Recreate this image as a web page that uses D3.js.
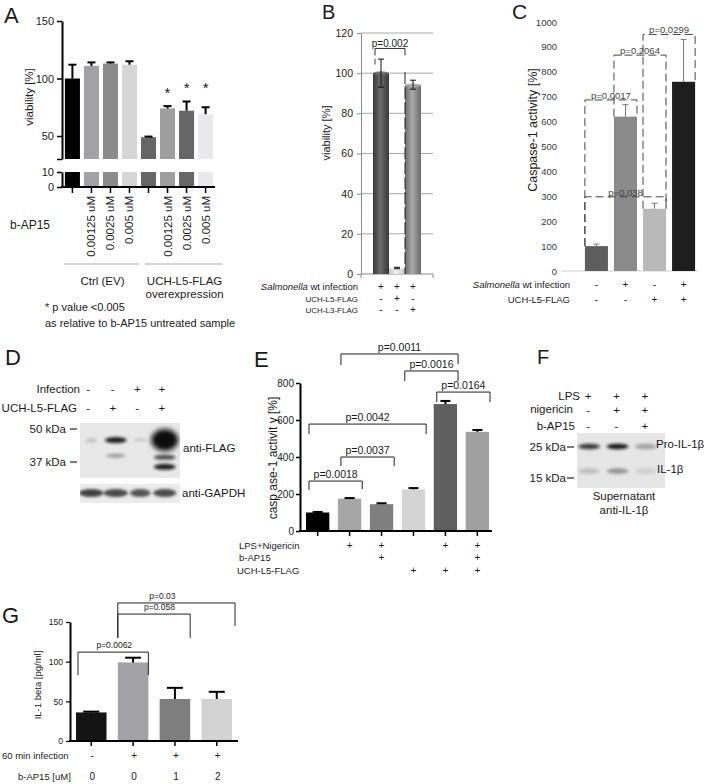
<!DOCTYPE html>
<html><head><meta charset="utf-8">
<script src="https://cdn.jsdelivr.net/npm/d3@7"></script>
<style>
body{margin:0;background:#fff}
svg{display:block}
text{font-family:"Liberation Sans",Arial,Helvetica,sans-serif;fill:#1a1a1a}
</style>
</head><body>
<svg id="fig" width="710" height="784"></svg>
<script>
// ================= DATA =================
// Panel A
const aConc = ["0","0.00125 uM","0.0025 uM","0.005 uM","0","0.00125 uM","0.0025 uM","0.005 uM"];
const aValues = [100,111,113,112,49,74,72,69];
const aErrUp = [112,114,114,115,49.5,76,80,75];
const aStarLevel = [null,null,null,null,null,90,94,94];
const aGroups = ["Ctrl (EV)", "UCH-L5-FLAG|overexpression"];
const aUpperTicks = [30,50,100,150];
const aLowerTicks = [0,10];
// Panel B
const bInfection = ["+","+","+"];
const bUCHL5 = ["-","+","-"];
const bUCHL3 = ["-","-","+"];
const bValues = [100,3,94];
const bErrLow = [93,2.6,92];
const bErrHigh = [107,3.3,96.5];
const bTicks = [0,20,40,60,80,100,120];
// Panel C
const cInfection = ["-","+","-","+"];
const cUCHL5 = ["-","-","+","+"];
const cValues = [100,620,250,760];
const cErrHigh = [108,668,272,930];
const cTicks = [0,100,200,300,400,500,600,700,800,900,1000];
const cBrackets = [
  {a:0,b:1,level:687,label:"p=0.0017"},
  {a:1,b:2,level:867,label:"p=0.2064"},
  {a:2,b:3,level:950,label:"p=0.0299"},
  {a:0,b:2,level:298,label:"p=0.038"}
];
// Panel D (western blot)
const dInfection = ["-","-","+","+"];
const dUCHL5 = ["-","+","-","+"];
const dMarkers = [50,37];
const dFlagBands = [
  {lane:0,kDa:45,intensity:0.18,w:0.5,h:4},
  {lane:1,kDa:45.2,intensity:0.9,w:0.9,h:6},
  {lane:1,kDa:39.2,intensity:0.35,w:0.8,h:4},
  {lane:2,kDa:45.2,intensity:0.12,w:0.6,h:4},
  {lane:3,kDa:45.2,intensity:1.0,w:1.1,h:22},
  {lane:3,kDa:38.6,intensity:0.7,w:0.9,h:5},
  {lane:3,kDa:35.4,intensity:0.9,w:0.9,h:6}
];
const dGapdhBands = [
  {lane:0,intensity:0.85,w:1.0},
  {lane:1,intensity:0.8,w:1.0},
  {lane:2,intensity:0.75,w:0.85},
  {lane:3,intensity:0.8,w:0.95}
];
// Panel E
const eLPS = ["","+","+","","+","+"];
const eBAP = ["","","+","","","+"];
const eUCH = ["","","","+","+","+"];
const eValues = [100,175,145,225,686,536];
const eErrHigh = [103,178,150,232,703,546];
const eTicks = [0,200,400,600,800];
const eBrackets = [
  {a:0,b:1,level:270,legA:222,legB:227,label:"p=0.0018"},
  {a:1,b:2,level:400,legA:351,legB:351,label:"p=0.0037"},
  {a:0,b:3,level:578,legA:524,legB:524,label:"p=0.0042"},
  {a:1,b:4,level:957,legA:897,legB:902,label:"p=0.0011"},
  {a:3,b:4,level:865,legA:811,legB:811,label:"p=0.0016"},
  {a:4,b:5,level:751,legA:697,legB:697,label:"p=0.0164"}
];
// Panel F (western blot)
const fLPS = ["+","+","+"];
const fNig = ["-","+","+"];
const fBAP = ["-","-","+"];
const fMarkers = [25,15];
const fBands = [
  {lane:0,kDa:25.2,intensity:0.8},{lane:1,kDa:25.2,intensity:0.95},{lane:2,kDa:25.2,intensity:0.3},
  {lane:0,kDa:16.8,intensity:0.18},{lane:1,kDa:16.8,intensity:0.38},{lane:2,kDa:16.8,intensity:0.1}
];
// Panel G
const gInfection = ["-","+","+","+"];
const gBAP = ["0","0","1","2"];
const gValues = [36,99,53,53];
const gErrHigh = [37,105,67,62];
const gTicks = [0,50,100,150];
const gBrackets = [
  {a:0,b:1,level:112,legA:83,legB:83,label:"p=0.0062",lx:0.55},
  {a:1,b:2,level:160,legA:130,legB:130,label:"p=0.058",lx:1.63},
  {a:1,b:3,level:174,legA:130,legB:145,label:"p=0.03",lx:1.7}
];

// ================= STYLES =================
const aColors = ["#000000","#a2a2a4","#8b8b8b","#d6d6d6","#666666","#9e9e9e","#666666","#e9e9eb"];
const bGrad = [["#383838","#6c6c6c"],["#c4c4c4","#f2f2f2"],["#6c6c6c","#a9a9a9"]];
const cColors = ["#5e5e5e","#8a8a8a","#b9b9b9","#1e1e1e"];
const eColors = ["#000000","#a6a6a6","#7f7f7f","#d4d4d4","#5f5f5f","#a0a0a0"];
const gColors = ["#141414","#a2a2a6","#7f7f7f","#d3d3d3"];

const svg = d3.select("#fig");
const defs = svg.append("defs");
defs.append("filter").attr("id","blur").attr("x","-50%").attr("y","-100%").attr("width","200%").attr("height","300%")
  .append("feGaussianBlur").attr("stdDeviation",1.6);
defs.append("filter").attr("id","blur2").attr("x","-50%").attr("y","-50%").attr("width","200%").attr("height","200%")
  .append("feGaussianBlur").attr("stdDeviation",2.4);

function T(g,x,y,s,size,anchor,extra){
  const t=g.append("text").attr("x",x).attr("y",y).attr("font-size",size).attr("text-anchor",anchor||"start").text(s);
  if(extra) extra(t);
  return t;
}
function styleAxis(ax, pathW, tickW, fs, color){
  ax.select(".domain").attr("stroke",color||"#000").attr("stroke-width",pathW);
  ax.selectAll(".tick line").attr("stroke",color||"#000").attr("stroke-width",tickW);
  ax.selectAll(".tick text").attr("font-size",fs).attr("fill","#1a1a1a").attr("font-family",null);
}

// ================= PANEL A =================
{
  const g = svg.append("g");
  T(g,4,23,"A",22);
  const x = d3.scaleBand().domain(d3.range(aValues.length)).range([63,215]).paddingInner(0.21).paddingOuter(0.1);
  const yU = d3.scaleLinear().domain([30,150]).range([159,21]);
  const yL = d3.scaleLinear().domain([0,10]).range([187,172]);
  const bw = x.bandwidth();
  g.selectAll(".au").data(aValues).join("rect")
    .attr("x",(d,i)=>x(i)).attr("y",d=>yU(d)).attr("width",bw).attr("height",d=>yU(30)-yU(d))
    .attr("fill",(d,i)=>aColors[i]);
  g.selectAll(".al").data(aValues).join("rect")
    .attr("x",(d,i)=>x(i)).attr("y",yL(10)).attr("width",bw).attr("height",yL(0)-yL(10))
    .attr("fill",(d,i)=>aColors[i]);
  aErrUp.forEach((e,i)=>{
    const cx=x(i)+bw/2;
    g.append("line").attr("x1",cx).attr("x2",cx).attr("y1",yU(aValues[i])).attr("y2",yU(e)).attr("stroke","#000").attr("stroke-width",2);
    g.append("line").attr("x1",cx-4).attr("x2",cx+4).attr("y1",yU(e)).attr("y2",yU(e)).attr("stroke","#000").attr("stroke-width",2);
    if(aStarLevel[i]!=null) T(g,cx,yU(aStarLevel[i])+8,"*",15,"middle");
  });
  const axU = g.append("g").attr("transform","translate(62,0)")
    .call(d3.axisLeft(yU).tickValues(aUpperTicks).tickFormat(d=>d===30?"":d).tickSize(5).tickSizeOuter(0));
  styleAxis(axU,2,1.5,11);
  const axL = g.append("g").attr("transform","translate(62,0)")
    .call(d3.axisLeft(yL).tickValues(aLowerTicks).tickSize(5).tickSizeOuter(0));
  styleAxis(axL,2,1.5,11);
  g.append("line").attr("x1",61).attr("x2",215).attr("y1",187).attr("y2",187).attr("stroke","#000").attr("stroke-width",2);
  aValues.forEach((d,i)=>{
    const cx=x(i)+bw/2;
    g.append("line").attr("x1",cx).attr("x2",cx).attr("y1",187).attr("y2",193).attr("stroke","#000").attr("stroke-width",1.5);
    if(aConc[i]!=="0") T(g,cx+4,196,aConc[i],11.5,"end",t=>t.attr("transform",`rotate(-90,${cx+4},196)`));
  });
  T(g,33,97,"viability [%]",11.5,"middle",t=>t.attr("transform","rotate(-90,33,97)"));
  T(g,10,229,"b-AP15",12);
  const gr=[[x(0)-1,x(3)+bw+2],[x(4)+4,x(7)+bw+9]];
  gr.forEach((r,k)=>{
    g.append("line").attr("x1",r[0]).attr("x2",r[1]).attr("y1",264).attr("y2",264).attr("stroke","#aaa").attr("stroke-width",1);
    const parts=aGroups[k].split("|");
    parts.forEach((p,j)=>T(g,(r[0]+r[1])/2+1,285+j*13,p,11.5,"middle"));
  });
  T(g,45,311,"*  p value <0.005",11);
  T(g,45,327,"as relative to b-AP15 untreated sample",11);
}

// ================= PANEL B =================
{
  const g = svg.append("g");
  T(g,322,19,"B",20);
  const x = d3.scaleBand().domain(d3.range(bValues.length)).range([361,433]).paddingInner(0).paddingOuter(0.75);
  const y = d3.scaleLinear().domain([0,120]).range([274,33]);
  const bw=x.bandwidth();
  bGrad.forEach((c,i)=>{
    const lg=defs.append("linearGradient").attr("id","bg"+i).attr("x1","0").attr("x2","1").attr("y1","0").attr("y2","0");
    lg.append("stop").attr("offset","0").attr("stop-color",c[0]);
    lg.append("stop").attr("offset","0.45").attr("stop-color",c[1]);
    lg.append("stop").attr("offset","1").attr("stop-color",c[0]);
  });
  g.selectAll(".grid").data(bTicks.filter(d=>d>0)).join("line")
    .attr("x1",361).attr("x2",433).attr("y1",d=>y(d)).attr("y2",d=>y(d)).attr("stroke","#a8a8a8").attr("stroke-width",1);
  const ax=g.append("g").attr("transform","translate(361,0)").call(d3.axisLeft(y).tickValues(bTicks).tickSize(4).tickSizeOuter(0));
  styleAxis(ax,1,1,10.5,"#888");
  ax.selectAll(".tick text").attr("x",-8);
  g.append("line").attr("x1",361).attr("x2",433).attr("y1",274).attr("y2",274).attr("stroke","#888");
  [361,433].forEach(v=>g.append("line").attr("x1",v).attr("x2",v).attr("y1",274).attr("y2",278).attr("stroke","#888"));
  bValues.forEach((v,i)=>{
    g.append("rect").attr("x",x(i)).attr("y",y(v)).attr("width",bw).attr("height",y(0)-y(v)).attr("fill",`url(#bg${i})`);
    g.append("ellipse").attr("cx",x(i)+bw/2).attr("cy",y(v)).attr("rx",bw/2).attr("ry",1.8).attr("fill",bGrad[i][1]).attr("opacity",0.9);
    const cx=x(i)+bw/2;
    g.append("line").attr("x1",cx).attr("x2",cx).attr("y1",y(bErrLow[i])).attr("y2",y(bErrHigh[i])).attr("stroke","#111").attr("stroke-width",1);
    [bErrLow[i],bErrHigh[i]].forEach(e=>g.append("line").attr("x1",cx-3).attr("x2",cx+3).attr("y1",y(e)).attr("y2",y(e)).attr("stroke","#111").attr("stroke-width",1));
  });
  const xa=x(0)+2, xb=x(1)+bw;
  g.append("path").attr("d",`M${xa},${y(108.8)}V${y(112.3)}H${xb}V${y(108.8)}`).attr("fill","none").attr("stroke","#333");
  g.append("line").attr("x1",xa).attr("x2",xa).attr("y1",y(107.3)).attr("y2",y(104.3)).attr("stroke","#444");
  g.append("line").attr("x1",xb).attr("x2",xb).attr("y1",y(100.5)).attr("y2",y(0)).attr("stroke","#222").attr("stroke-dasharray","12,3");
  T(g,(xa+xb)/2,47,"p=0.002",10,"middle");
  T(g,330,133,"viability [%]",11,"middle",t=>t.attr("transform","rotate(-90,330,133)"));
  const lab=g.append("text").attr("x",358).attr("y",290).attr("font-size",9.5).attr("text-anchor","end");
  lab.append("tspan").attr("font-style","italic").text("Salmonella");
  lab.append("tspan").text(" wt infection");
  T(g,358,302,"UCH-L5-FLAG",8,"end");
  T(g,358,313,"UCH-L3-FLAG",8,"end");
  [bInfection,bUCHL5,bUCHL3].forEach((row,r)=>row.forEach((s,i)=>T(g,x(i)+bw/2,[290,302,313][r],s,10,"middle")));
}

// ================= PANEL C =================
{
  const g = svg.append("g");
  T(g,512,19,"C",21);
  const x = d3.scaleBand().domain(d3.range(cValues.length)).range([582,698]).paddingInner(0.207).paddingOuter(0.1);
  const y = d3.scaleLinear().domain([0,1000]).range([271,22]);
  const bw=x.bandwidth();
  g.selectAll(".ct").data(cTicks).join("text").attr("x",557).attr("y",d=>y(d)+3.5).attr("font-size",9.5)
    .attr("text-anchor","end").style("fill","#3a3a3a").text(d=>d);
  g.append("line").attr("x1",562).attr("x2",698).attr("y1",y(0)).attr("y2",y(0)).attr("stroke","#cfcfcf");
  g.selectAll(".cb").data(cValues).join("rect").attr("x",(d,i)=>x(i)).attr("y",d=>y(d)).attr("width",bw)
    .attr("height",d=>y(0)-y(d)).attr("fill",(d,i)=>cColors[i]);
  cErrHigh.forEach((e,i)=>{
    const cx=x(i)+bw/2;
    g.append("line").attr("x1",cx).attr("x2",cx).attr("y1",y(cValues[i])).attr("y2",y(e)).attr("stroke","#777");
    g.append("line").attr("x1",cx-3).attr("x2",cx+3).attr("y1",y(e)).attr("y2",y(e)).attr("stroke","#777");
  });
  cBrackets.forEach(b=>{
    const xa=x(b.a), xb=x(b.b)+bw;
    g.append("path").attr("d",`M${xa},${y(cValues[b.a])}V${y(b.level)}H${xb}V${y(cValues[b.b])}`)
      .attr("fill","none").attr("stroke","#444").attr("stroke-dasharray","8,4");
    T(g,(xa+xb)/2,y(b.level)-1,b.label,9.5,"middle",t=>t.style("fill","#444"));
  });
  T(g,537,130,"Caspase-1 activity [%]",12.5,"middle",t=>t.attr("transform","rotate(-90,537,130)"));
  const lab=g.append("text").attr("x",570).attr("y",288).attr("font-size",9.5).attr("text-anchor","end");
  lab.append("tspan").attr("font-style","italic").text("Salmonella");
  lab.append("tspan").text(" wt infection");
  T(g,570,303,"UCH-L5-FLAG",9.5,"end");
  [cInfection,cUCHL5].forEach((row,r)=>row.forEach((s,i)=>T(g,x(i)+bw/2,[288,303][r],s,10,"middle")));
}

// ================= PANEL D =================
{
  const g = svg.append("g");
  T(g,5,365,"D",22);
  const lane = d3.scaleBand().domain(d3.range(4)).range([79,177]);
  const kda = d3.scaleLog().domain([37,50]).range([462,429]);
  const lw = lane.bandwidth();
  T(g,80,393,"Infection",11.5,"end");
  T(g,77,412,"UCH-L5-FLAG",11.5,"end");
  [dInfection,dUCHL5].forEach((row,r)=>row.forEach((s,i)=>T(g,lane(i)+lw/2-3,[393,412][r],s,11.5,"middle")));
  dMarkers.forEach(m=>{
    T(g,66,kda(m)+4,m+" kDa",11.5,"end");
    g.append("line").attr("x1",70).attr("x2",77).attr("y1",kda(m)).attr("y2",kda(m)).attr("stroke","#222").attr("stroke-width",1.2);
  });
  const clip=defs.append("clipPath").attr("id","clipD"); clip.append("rect").attr("x",80).attr("y",423).attr("width",100).attr("height",55);
  g.append("rect").attr("x",80).attr("y",423).attr("width",100).attr("height",55).attr("fill","#e8e8e8");
  const bg=g.append("g").attr("clip-path","url(#clipD)");
  dFlagBands.forEach(b=>{
    bg.append("ellipse").attr("cx",lane(b.lane)+lw/2).attr("cy",kda(b.kDa)).attr("rx",lw*b.w/2).attr("ry",b.h/2)
      .attr("fill","#111").attr("opacity",b.intensity).attr("filter",b.h>10?"url(#blur2)":"url(#blur)");
  });
  T(g,183,452,"anti-FLAG",11.5);
  const clip2=defs.append("clipPath").attr("id","clipD2"); clip2.append("rect").attr("x",80).attr("y",484).attr("width",100).attr("height",19);
  g.append("rect").attr("x",80).attr("y",484).attr("width",100).attr("height",19).attr("fill","#ececec");
  const bg2=g.append("g").attr("clip-path","url(#clipD2)");
  dGapdhBands.forEach(b=>{
    bg2.append("ellipse").attr("cx",lane(b.lane)+lw/2).attr("cy",493).attr("rx",lw*b.w/2).attr("ry",4)
      .attr("fill","#222").attr("opacity",b.intensity).attr("filter","url(#blur)");
  });
  T(g,182,497,"anti-GAPDH",11.5);
}

// ================= PANEL E =================
{
  const g = svg.append("g");
  T(g,254,367,"E",22);
  const x = d3.scaleBand().domain(d3.range(eValues.length)).range([301.2,493.8]).paddingInner(0.27).paddingOuter(0.15);
  const y = d3.scaleLinear().domain([0,800]).range([531,383]);
  const bw=x.bandwidth();
  g.selectAll(".eb").data(eValues).join("rect").attr("x",(d,i)=>x(i)).attr("y",d=>y(d)).attr("width",bw)
    .attr("height",d=>y(0)-y(d)).attr("fill",(d,i)=>eColors[i]);
  eErrHigh.forEach((e,i)=>{
    const cx=x(i)+bw/2;
    g.append("line").attr("x1",cx).attr("x2",cx).attr("y1",y(eValues[i])).attr("y2",y(e)).attr("stroke","#000").attr("stroke-width",2);
    g.append("line").attr("x1",cx-5).attr("x2",cx+5).attr("y1",y(e)).attr("y2",y(e)).attr("stroke","#000").attr("stroke-width",2);
  });
  const ax=g.append("g").attr("transform","translate(300,0)").call(d3.axisLeft(y).tickValues(eTicks).tickSize(4).tickSizeOuter(0));
  styleAxis(ax,2,1.5,10);
  ax.selectAll(".tick text").attr("x",-6);
  g.append("line").attr("x1",299).attr("x2",492).attr("y1",531).attr("y2",531).attr("stroke","#000").attr("stroke-width",2);
  eValues.forEach((d,i)=>g.append("line").attr("x1",x(i)+bw/2).attr("x2",x(i)+bw/2).attr("y1",531).attr("y2",536).attr("stroke","#000").attr("stroke-width",1.5));
  eBrackets.forEach(b=>{
    const xa=x(b.a)+3, xb=x(b.b)+bw+1;
    g.append("path").attr("d",`M${xa},${y(b.legA)}V${y(b.level)}H${xb}V${y(b.legB)}`).attr("fill","none").attr("stroke","#222").attr("stroke-width",1);
    T(g,(xa+xb)/2,y(b.level)-3,b.label,10.5,"middle");
  });
  T(g,277,458,"casp ase-1 activit y [%]",12,"middle",t=>t.attr("transform","rotate(-90,277,458)"));
  T(g,239,549,"LPS+Nigericin",9.5);
  T(g,239,561,"b-AP15",9.5);
  T(g,237,574,"UCH-L5-FLAG",9.5);
  [eLPS,eBAP,eUCH].forEach((row,r)=>row.forEach((s,i)=>{ if(s) T(g,x(i)+bw/2,[549,561,574][r],s,10,"middle"); }));
}

// ================= PANEL F =================
{
  const g = svg.append("g");
  T(g,537,364,"F",20);
  const lane = d3.scaleBand().domain(d3.range(3)).range([575,660]);
  const kda = d3.scaleLog().domain([15,25]).range([478,447]);
  const lw=lane.bandwidth();
  T(g,580,400,"LPS",11.5,"end");
  T(g,573,413,"nigericin",11.5,"end");
  T(g,575,430,"b-AP15",11.5,"end");
  [fLPS,fNig,fBAP].forEach((row,r)=>row.forEach((s,i)=>T(g,lane(i)+lw/2-1,[400,414,430][r],s,11.5,"middle")));
  fMarkers.forEach(m=>{
    T(g,566,kda(m)+4,m+" kDa",11.5,"end");
    g.append("line").attr("x1",567).attr("x2",574).attr("y1",kda(m)).attr("y2",kda(m)).attr("stroke","#222").attr("stroke-width",1.2);
  });
  g.append("rect").attr("x",577).attr("y",433).attr("width",88).attr("height",55).attr("fill","#e6e6e6");
  fBands.forEach(b=>{
    g.append("ellipse").attr("cx",lane(b.lane)+lw/2).attr("cy",kda(b.kDa)).attr("rx",11).attr("ry",2.8)
      .attr("fill","#111").attr("opacity",b.intensity).attr("filter","url(#blur)");
  });
  T(g,656,448,"Pro-IL-1β",11.5);
  T(g,657,473,"IL-1β",11.5);
  T(g,624,500,"Supernatant",11.5,"middle");
  T(g,624,514,"anti-IL-1β",11.5,"middle");
}

// ================= PANEL G =================
{
  const g = svg.append("g");
  T(g,2,623,"G",22);
  const x = d3.scaleBand().domain(d3.range(gValues.length)).range([70,238]).paddingInner(0.27).paddingOuter(0.143);
  const y = d3.scaleLinear().domain([0,150]).range([741,622]);
  const bw=x.bandwidth();
  g.selectAll(".gb").data(gValues).join("rect").attr("x",(d,i)=>x(i)).attr("y",d=>y(d)).attr("width",bw)
    .attr("height",d=>y(0)-y(d)).attr("fill",(d,i)=>gColors[i]);
  gErrHigh.forEach((e,i)=>{
    const cx=x(i)+bw/2;
    g.append("line").attr("x1",cx).attr("x2",cx).attr("y1",y(gValues[i])).attr("y2",y(e)).attr("stroke","#000").attr("stroke-width",2);
    g.append("line").attr("x1",cx-8).attr("x2",cx+8).attr("y1",y(e)).attr("y2",y(e)).attr("stroke","#000").attr("stroke-width",2);
  });
  const ax=g.append("g").attr("transform","translate(70,0)").call(d3.axisLeft(y).tickValues(gTicks).tickSize(4).tickSizeOuter(0));
  styleAxis(ax,2,1.2,8.5);
  g.append("line").attr("x1",69).attr("x2",238).attr("y1",741).attr("y2",741).attr("stroke","#000").attr("stroke-width",2);
  gValues.forEach((d,i)=>g.append("line").attr("x1",x(i)+bw/2).attr("x2",x(i)+bw/2).attr("y1",741).attr("y2",746).attr("stroke","#000").attr("stroke-width",1.5));
  gBrackets.forEach(b=>{
    const xa=x(b.a)+(b.a===0?2:0), xb=x(b.b)+bw+(b.b===3?3:0);
    g.append("path").attr("d",`M${xa},${y(b.legA)}V${y(b.level)}H${xb}V${y(b.legB)}`).attr("fill","none").attr("stroke","#222").attr("stroke-width",1);
    T(g,x(Math.floor(b.lx))+bw/2+(b.lx%1)*x.step(),y(b.level)-4,b.label,8.5,"middle");
  });
  T(g,41,685,"IL-1 beta [pg/ml]",9.5,"middle",t=>t.attr("transform","rotate(-90,41,685)"));
  T(g,2,759,"60 min infection",9.5);
  T(g,18,780,"b-AP15 [uM]",9.5);
  [gInfection,gBAP].forEach((row,r)=>row.forEach((s,i)=>T(g,x(i)+bw/2+1,[759,780][r],s,10,"middle")));
}
</script>
</body></html>
